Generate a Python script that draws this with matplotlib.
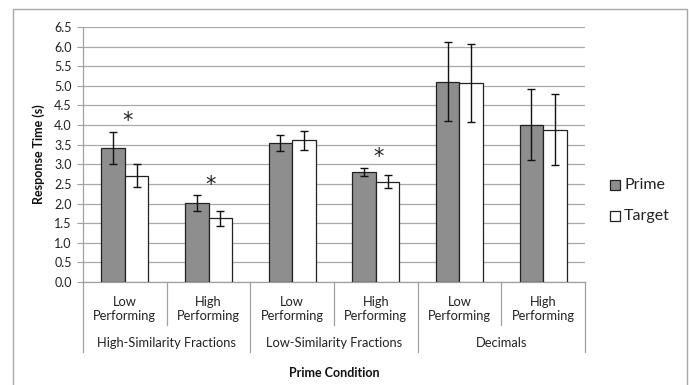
import matplotlib
matplotlib.use("Agg")
import matplotlib.pyplot as plt
import matplotlib.transforms as mtransforms
from matplotlib.patches import Rectangle
from matplotlib.lines import Line2D
import numpy as np

plt.rcParams['font.family'] = ['Lato', 'DejaVu Sans']

groups = ["High-Similarity Fractions", "Low-Similarity Fractions", "Decimals"]
subgroups = ["Low\nPerforming", "High\nPerforming"]
prime = [3.42, 2.01, 3.55, 2.81, 5.11, 4.01]
target = [2.71, 1.62, 3.61, 2.56, 5.07, 3.88]
prime_err = [0.40, 0.20, 0.20, 0.10, 1.01, 0.90]
target_err = [0.30, 0.20, 0.25, 0.16, 1.00, 0.90]
significant = [True, True, False, True, False, False]
yticks = [0.0, 0.5, 1.0, 1.5, 2.0, 2.5, 3.0, 3.5, 4.0, 4.5, 5.0, 5.5, 6.0, 6.5]

W, H = 689, 385
fig = plt.figure(figsize=(W/100, H/100), dpi=100)
ax = fig.add_axes([83/W, 103/H, (585-83)/W, (358-103)/H])

n = len(prime)
x = np.arange(n)
bw = 0.28
prime_color = '#8e8e8e'
ax.bar(x - bw/2, prime, bw, color=prime_color, edgecolor='#222222', linewidth=0.9, zorder=3)
ax.bar(x + bw/2, target, bw, color='white', edgecolor='#222222', linewidth=0.9, zorder=3)
ax.errorbar(x - bw/2, prime, yerr=prime_err, fmt='none', ecolor='#111111', elinewidth=1.0, capsize=3.2, capthick=1.0, zorder=4)
ax.errorbar(x + bw/2, target, yerr=target_err, fmt='none', ecolor='#111111', elinewidth=1.0, capsize=3.2, capthick=1.0, zorder=4)

for i, s in enumerate(significant):
    if s:
        top = max(prime[i] + prime_err[i], target[i] + target_err[i])
        ax.text(i + 0.03, top + 0.02, "*", ha='center', va='bottom', fontsize=15,
                family=['DejaVu Sans'], color='#222222')

ax.set_xlim(-0.5, n - 0.5)
ax.set_ylim(0, 6.5)
ax.set_yticks(yticks)
ax.set_yticklabels([f"{v:.1f}" for v in yticks], fontsize=9, color='#222222')
ax.yaxis.grid(True, color='#a8a8a8', linewidth=0.9, zorder=0)
ax.set_axisbelow(True)
ax.tick_params(axis='y', length=4, width=0.8, color='#a0a0a0', pad=4)
ax.set_xticks([])
for sp in ['top', 'right']:
    ax.spines[sp].set_visible(False)
for sp in ['left', 'bottom']:
    ax.spines[sp].set_color('#a0a0a0')
    ax.spines[sp].set_linewidth(0.9)

ax.set_ylabel("Response Time (s)", fontsize=9, fontweight='bold', labelpad=7, color='#111111')

trans = mtransforms.blended_transform_factory(ax.transData, ax.transAxes)
axh = 255.0
def ay(py):
    return -(py - 282) / axh

for i in range(n):
    ax.text(i, ay(309), subgroups[i % 2], transform=trans, ha='center', va='center',
            fontsize=9.3, linespacing=1.2, color='#222222')
for g, name in enumerate(groups):
    ax.text(2*g + 0.5, ay(343), name, transform=trans, ha='center', va='center',
            fontsize=9.3, color='#222222')
# separators
for b in np.arange(-0.5, n, 1.0):
    k = int(b + 0.5)
    bottom = ay(352) if k % 2 == 0 else ay(325)
    ax.add_line(Line2D([b, b], [0, bottom], transform=trans, color='#a0a0a0', linewidth=0.9, clip_on=False))

ax.text(0.5, ay(373), "Prime Condition", transform=ax.transAxes, ha='center', va='center',
        fontsize=9, fontweight='bold', color='#111111')

# legend
for label, col, py in [("Prime", prime_color, 185), ("Target", 'white', 216)]:
    fig.patches.append(Rectangle((610/W, (H - py - 5)/H), 10/W, 10/H, transform=fig.transFigure,
                                 facecolor=col, edgecolor='#222222', linewidth=0.9))
    fig.text(624/W, (H - py)/H, label, ha='left', va='center', fontsize=11.5, color='#222222')

# outer border
fig.patches.append(Rectangle((13/W, -5/H), (687-13)/W, (H - 9 + 5)/H, transform=fig.transFigure,
                             facecolor='none', edgecolor='#a8a8a8', linewidth=1.0))

fig.savefig("out.png", dpi=100)
